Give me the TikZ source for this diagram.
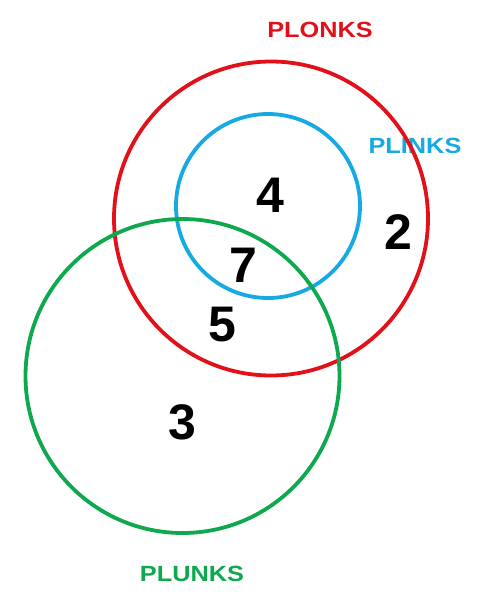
\documentclass[tikz,border=0pt]{standalone}
\usepackage{fontspec}
\setmainfont{Liberation Sans}
\usepackage{xcolor}
\usetikzlibrary{positioning}

\definecolor{plonksred}{RGB}{226,16,24}
\definecolor{plinksblue}{RGB}{22,170,226}
\definecolor{plunksgreen}{RGB}{14,168,78}

\begin{document}
\begin{tikzpicture}[x=1pt,y=-1pt,
 ring/.style={line width=3.8pt},
 setlab/.style={font=\fontsize{22}{24}\selectfont\bfseries,xscale=1.15,inner sep=0pt},
 count/.style={font=\fontsize{50}{56}\selectfont\bfseries,inner sep=0pt}
]
\useasboundingbox (0,0) rectangle (481,600);

% set names
\node[setlab,plonksred] (plonks) at (320,30) {PLONKS};
\node[setlab,plinksblue] (plinks) at (415,146) {PLINKS};
\node[setlab,plunksgreen] (plunks) at (192,574) {PLUNKS};

% the three sets
\draw[ring,plinksblue] (268,206) circle (92);
\draw[ring,plonksred] (271,218.5) circle (157);
\draw[ring,plunksgreen] (182.5,376) circle (157);

% region counts
\node[count] (n4) at (270,195) {4};
\node[count] (n2) at (398,232) {2};
\node[count] (n7) at (243,265) {7};
\node[count] (n5) at (222,325) {5};
\node[count] (n3) at (182,422) {3};
\end{tikzpicture}
\end{document}
